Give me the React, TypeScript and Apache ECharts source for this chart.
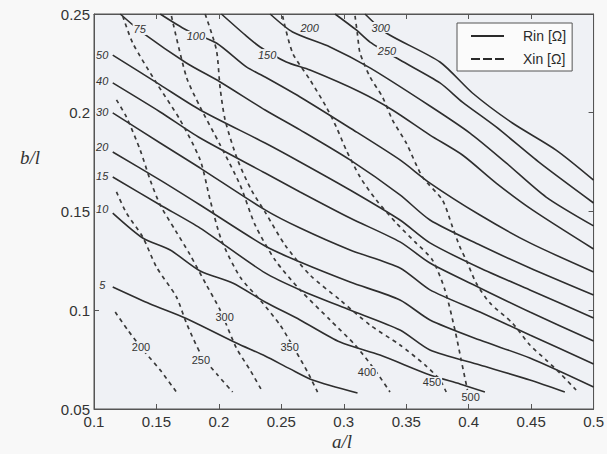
import React, { useEffect, useRef } from "react";
import * as echarts from "echarts";

// x = a/l , y = b/l
const xTicks = [0.1, 0.15, 0.2, 0.25, 0.3, 0.35, 0.4, 0.45, 0.5];
const yTicks = [0.05, 0.1, 0.15, 0.2, 0.25];

// Rin contours [a/l, b/l]
const rin5 = [[0.115,0.1118],[0.145,0.1032],[0.173,0.0961],[0.214,0.0834],[0.237,0.0768],[0.257,0.0703],[0.275,0.0647],[0.311,0.0581]];
const rin10 = [[0.115,0.1492],[0.139,0.1366],[0.161,0.1305],[0.185,0.1199],[0.211,0.1138],[0.237,0.1042],[0.265,0.0951],[0.297,0.0839],[0.329,0.0773],[0.369,0.0672],[0.393,0.0627],[0.413,0.0586]];
const rin15 = [[0.115,0.1675],[0.153,0.1533],[0.185,0.1416],[0.237,0.1189],[0.265,0.1103],[0.305,0.1001],[0.345,0.09],[0.369,0.0799],[0.409,0.0723],[0.449,0.0647],[0.477,0.0586]];
const rin20 = [[0.115,0.1801],[0.153,0.1659],[0.185,0.1533],[0.237,0.1325],[0.265,0.1244],[0.305,0.1143],[0.345,0.1052],[0.369,0.0951],[0.409,0.0849],[0.449,0.0758],[0.5,0.0611]];
const rin30 = [[0.115,0.1999],[0.153,0.1847],[0.185,0.172],[0.237,0.1508],[0.265,0.1416],[0.305,0.1305],[0.345,0.1214],[0.369,0.1103],[0.409,0.0991],[0.449,0.0875],[0.5,0.0728]];
const rin40 = [[0.115,0.2151],[0.153,0.2004],[0.185,0.1872],[0.237,0.1695],[0.265,0.1599],[0.305,0.1467],[0.345,0.1346],[0.369,0.1239],[0.409,0.1113],[0.449,0.0991],[0.5,0.0844]];
const rin50 = [[0.115,0.2292],[0.153,0.2141],[0.185,0.2014],[0.237,0.1847],[0.265,0.1751],[0.305,0.1609],[0.345,0.1457],[0.369,0.1341],[0.409,0.1214],[0.449,0.1103],[0.5,0.0961]];
const rin75 = [[0.121,0.25],[0.139,0.2404],[0.174,0.2252],[0.201,0.2156],[0.237,0.2014],[0.265,0.1913],[0.305,0.1761],[0.345,0.1584],[0.369,0.1457],[0.409,0.133],[0.449,0.1214],[0.5,0.1077]];
const rin100 = [[0.153,0.25],[0.174,0.2419],[0.198,0.2353],[0.222,0.2232],[0.237,0.2181],[0.265,0.208],[0.305,0.1923],[0.345,0.1761],[0.369,0.1644],[0.409,0.1482],[0.449,0.1341],[0.5,0.1194]];
const rin150 = [[0.202,0.25],[0.221,0.2394],[0.233,0.2333],[0.254,0.2257],[0.273,0.2216],[0.313,0.2105],[0.339,0.2014],[0.369,0.1887],[0.395,0.1786],[0.422,0.1644],[0.451,0.1508],[0.5,0.131]];
const rin200 = [[0.241,0.25],[0.259,0.2409],[0.289,0.2333],[0.321,0.2227],[0.369,0.2034],[0.401,0.1897],[0.43,0.1746],[0.462,0.1573],[0.5,0.1427]];
const rin250 = [[0.293,0.25],[0.31,0.2419],[0.321,0.2358],[0.345,0.2267],[0.377,0.2151],[0.395,0.2054],[0.422,0.1928],[0.457,0.1746],[0.5,0.1543]];
const rin300 = [[0.317,0.25],[0.334,0.2404],[0.377,0.2257],[0.403,0.21],[0.435,0.1948],[0.47,0.1811],[0.5,0.1659]];

// Xin contours [a/l, b/l]
const xin200 = [[0.117,0.0991],[0.127,0.09],[0.138,0.0809],[0.153,0.0697],[0.166,0.0586]];
const xin250 = [[0.118,0.1599],[0.126,0.1492],[0.139,0.1371],[0.15,0.1219],[0.166,0.1067],[0.174,0.0935],[0.186,0.0773],[0.199,0.0672],[0.211,0.0586]];
const xin300 = [[0.118,0.2065],[0.126,0.1978],[0.137,0.1811],[0.145,0.1659],[0.153,0.1533],[0.165,0.1406],[0.177,0.128],[0.19,0.1128],[0.201,0.1001],[0.214,0.0809],[0.225,0.0697],[0.235,0.0586]];
const xin350 = [[0.123,0.249],[0.131,0.2353],[0.15,0.2151],[0.169,0.1963],[0.185,0.1761],[0.193,0.1558],[0.202,0.1356],[0.217,0.1168],[0.233,0.1052],[0.249,0.0925],[0.261,0.0799],[0.271,0.0687],[0.279,0.0586]];
const xin400 = [[0.162,0.249],[0.174,0.2181],[0.185,0.2029],[0.201,0.1837],[0.217,0.1634],[0.229,0.1432],[0.245,0.1254],[0.265,0.1103],[0.289,0.0951],[0.309,0.0824],[0.325,0.0697],[0.337,0.0586]];
const xin450 = [[0.189,0.25],[0.198,0.2318],[0.201,0.2125],[0.205,0.1963],[0.215,0.1761],[0.226,0.1609],[0.237,0.1497],[0.253,0.133],[0.273,0.1178],[0.297,0.1052],[0.321,0.0925],[0.345,0.0824],[0.365,0.0723],[0.377,0.0647],[0.382,0.0586]];
const xin500 = [[0.251,0.249],[0.259,0.2303],[0.273,0.2166],[0.286,0.2029],[0.294,0.1928],[0.302,0.1811],[0.313,0.1675],[0.326,0.1558],[0.342,0.1442],[0.357,0.1346],[0.371,0.1254],[0.381,0.1103],[0.389,0.09],[0.394,0.0748],[0.399,0.0596]];
const xin550 = [[0.309,0.249],[0.311,0.2394],[0.313,0.2303],[0.321,0.2181],[0.331,0.208],[0.339,0.1963],[0.35,0.1847],[0.363,0.1675],[0.379,0.1558],[0.387,0.1422],[0.393,0.132],[0.398,0.1254],[0.406,0.1138],[0.417,0.1037],[0.435,0.0935],[0.449,0.0824],[0.462,0.0748],[0.473,0.0682],[0.486,0.0596]];

// contour labels [a/l, b/l, text]
const rinLabels = [
  [0.107,0.2292,"50"],[0.107,0.2156,"40"],[0.107,0.1999,"30"],[0.107,0.1822,"20"],
  [0.107,0.1675,"15"],[0.107,0.1508,"10"],[0.107,0.1123,"5"],
  [0.137,0.2419,"75"],[0.182,0.2384,"100"],[0.239,0.2292,"150"],
  [0.273,0.2429,"200"],[0.335,0.2308,"250"],[0.33,0.2429,"300"],
];
const xinLabels = [
  [0.138,0.0809,"200"],[0.186,0.0748,"250"],[0.205,0.0961,"300"],[0.257,0.0809,"350"],
  [0.319,0.0687,"400"],[0.371,0.0632,"450"],[0.402,0.0556,"500"],
];

const rinCurves = [rin5, rin10, rin15, rin20, rin30, rin40, rin50, rin75, rin100, rin150, rin200, rin250, rin300];
const xinCurves = [xin200, xin250, xin300, xin350, xin400, xin450, xin500, xin550];

const RIN = "Rin [Ω]";
const XIN = "Xin [Ω]";
const INK = "#2e2e2e";
const PLOT_BG = "#eff1f5";
const SANS = "'Liberation Sans', Arial, Helvetica, sans-serif";
const SERIF = "'Liberation Serif', 'DejaVu Serif', 'Times New Roman', serif";

export default function App() {
  const ref = useRef<HTMLDivElement>(null);

  useEffect(() => {
    if (!ref.current) return;
    const chart = echarts.init(ref.current, null, { renderer: "svg" });

    const lineSeries: any[] = [];
    rinCurves.forEach((c) =>
      lineSeries.push({
        type: "line",
        name: RIN,
        data: c,
        symbol: "none",
        showSymbol: false,
        smooth: 0.25,
        silent: true,
        z: 3,
        lineStyle: { color: INK, width: 1.6, type: "solid" },
        itemStyle: { color: INK },
      })
    );
    xinCurves.forEach((c) =>
      lineSeries.push({
        type: "line",
        name: XIN,
        data: c,
        symbol: "none",
        showSymbol: false,
        smooth: 0.25,
        silent: true,
        z: 3,
        lineStyle: { color: "#3a3a3a", width: 1.7, type: [4, 4] },
        itemStyle: { color: "#3a3a3a" },
      })
    );

    const labelSeries = (data: any[], italic: boolean) => ({
      type: "scatter",
      name: italic ? "rinLabels" : "xinLabels",
      data,
      symbol: "rect",
      symbolSize: 1,
      silent: true,
      z: 6,
      itemStyle: { color: PLOT_BG, opacity: 1 },
      label: {
        show: true,
        position: [0, 0],
        align: "center",
        verticalAlign: "middle",
        formatter: (p: any) => p.value[2],
        fontSize: 11,
        fontStyle: italic ? "italic" : "normal",
        fontFamily: SANS,
        color: "#333333",
        textBorderWidth: 0,
        textShadowBlur: 0,
        backgroundColor: PLOT_BG,
        padding: [0, 1],
      },
    });

    const tickFmt = (v: number) => String(Math.round(v * 100) / 100);

    chart.setOption({
      animation: false,
      backgroundColor: "#f8f8f8",
      grid: {
        left: 94,
        right: 13,
        top: 14,
        bottom: 45,
        show: true,
        backgroundColor: PLOT_BG,
        borderColor: "#555",
        borderWidth: 1,
      },
      legend: {
        data: [
          { name: RIN, icon: "rect" },
          { name: XIN, icon: "path://M0,0h9v2h-9z M12,0h9v2h-9z M24,0h9v2h-9z" },
        ],
        orient: "vertical",
        left: 457,
        top: 23,
        itemWidth: 33,
        itemHeight: 2,
        itemGap: 9,
        padding: [6, 6, 5, 14],
        backgroundColor: "#fbfbfb",
        borderColor: "#555",
        borderWidth: 1,
        borderRadius: 0,
        itemStyle: { color: "#2a2a2a", borderWidth: 0 },
        textStyle: {
          fontFamily: SANS,
          fontSize: 14,
          color: "#2a2a2a",
          width: 58,
          padding: [0, 0, 0, 14],
        },
        selectedMode: false,
      },
      xAxis: [
        {
          type: "value",
          min: 0.1,
          max: 0.5,
          interval: 0.05,
          position: "bottom",
          axisLine: { show: true, lineStyle: { color: "#555" } },
          axisTick: { show: true, inside: true, length: 5, lineStyle: { color: "#555" } },
          splitLine: { show: false },
          axisLabel: {
            formatter: tickFmt,
            fontFamily: SANS,
            fontSize: 15,
            color: "#333",
            margin: 5,
          },
        },
        {
          type: "value",
          min: 0.1,
          max: 0.5,
          interval: 0.05,
          position: "top",
          axisLine: { show: true, lineStyle: { color: "#555" } },
          axisTick: { show: true, inside: true, length: 5, lineStyle: { color: "#555" } },
          axisLabel: { show: false },
          splitLine: { show: false },
        },
      ],
      yAxis: [
        {
          type: "value",
          min: 0.05,
          max: 0.25,
          interval: 0.05,
          position: "left",
          axisLine: { show: true, lineStyle: { color: "#555" } },
          axisTick: { show: true, inside: true, length: 5, lineStyle: { color: "#555" } },
          splitLine: { show: false },
          axisLabel: {
            formatter: tickFmt,
            fontFamily: SANS,
            fontSize: 15,
            color: "#333",
            margin: 4,
          },
        },
        {
          type: "value",
          min: 0.05,
          max: 0.25,
          interval: 0.05,
          position: "right",
          axisLine: { show: true, lineStyle: { color: "#555" } },
          axisTick: { show: true, inside: true, length: 5, lineStyle: { color: "#555" } },
          axisLabel: { show: false },
          splitLine: { show: false },
        },
      ],
      graphic: [
        {
          type: "text",
          left: 20,
          top: 148,
          style: { text: "b/l", font: `italic 19px ${SERIF}`, fill: "#333" },
        },
        {
          type: "text",
          left: 332,
          top: 432,
          style: { text: "a/l", font: `italic 19px ${SERIF}`, fill: "#333" },
        },
      ],
      series: [...lineSeries, labelSeries(rinLabels, true), labelSeries(xinLabels, false)],
    });

    return () => chart.dispose();
  }, []);

  return (
    <div
      ref={ref}
      style={{ position: "fixed", left: 0, top: 0, width: 607, height: 454 }}
    />
  );
}
